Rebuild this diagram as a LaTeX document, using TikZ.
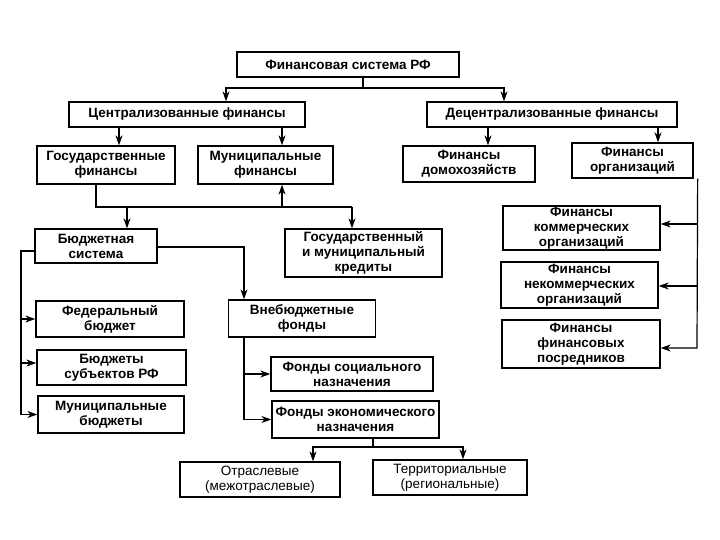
\documentclass[tikz,border=0pt]{standalone}
\usepackage{fontspec}
\setmainfont{Liberation Sans}
\usetikzlibrary{arrows.meta}
\tikzset{
  blk/.style={draw, line width=1.3pt, align=center, inner sep=0pt,
    font=\bfseries\fontsize{13.5}{15}\selectfont},
  thin/.style={font=\fontsize{13.5}{15}\selectfont},
  arr/.style={line width=1.2pt, -{Stealth[length=10pt,width=7pt]}},
  ln/.style={line width=1.2pt}
}
\begin{document}
\begin{tikzpicture}[x=1pt,y=-1pt]
\useasboundingbox[fill=white] (0,0) rectangle (720,540);

\node[blk, minimum width=222pt, minimum height=25pt] (fs) at (348,64.5) {Финансовая система РФ};

\node[blk, minimum width=236pt, minimum height=25pt] (cf) at (187,114.5) {Централизованные финансы};
\node[blk, minimum width=250pt, minimum height=25pt] (dcf) at (552,114.5) {Децентрализованные финансы};

\node[blk, minimum width=138pt, minimum height=38pt] (gf) at (106,165) {Государственные\\финансы};
\node[blk, minimum width=135pt, minimum height=38pt] (mf) at (265.5,165) {Муниципальные\\финансы};
\node[blk, minimum width=132pt, minimum height=36pt] (hf) at (469,164) {Финансы\\домохозяйств};
\node[blk, minimum width=121pt, minimum height=35pt] (of) at (632.5,160.5) {Финансы\\организаций};

\node[blk, minimum width=122pt, minimum height=34pt] (bs) at (96,246) {Бюджетная\\система};
\node[blk, minimum width=157pt, minimum height=48pt] (cr) at (363.5,253) {Государственный\\и муниципальный\\кредиты};

\node[blk, minimum width=157pt, minimum height=44pt] (co) at (581.5,228) {Финансы\\коммерческих\\организаций};
\node[blk, minimum width=157pt, minimum height=46pt] (nco) at (579.5,285) {Финансы\\некоммерческих\\организаций};
\node[blk, minimum width=158pt, minimum height=48pt] (fi) at (581,344) {Финансы\\финансовых\\посредников};

\node[blk, minimum width=148pt, minimum height=36pt] (fb) at (110,319) {Федеральный\\бюджет};
\node[blk, minimum width=149pt, minimum height=35pt] (sb) at (111.5,367.5) {Бюджеты\\субъектов РФ};
\node[blk, minimum width=146pt, minimum height=37pt] (mb) at (111,414.5) {Муниципальные\\бюджеты};

\node[blk, minimum width=147pt, minimum height=37pt] (vf) at (302,318.5) {Внебюджетные\\фонды};
\node[blk, minimum width=162pt, minimum height=34pt] (sf) at (352,374) {Фонды социального\\назначения};
\node[blk, minimum width=167pt, minimum height=37pt] (ef) at (355.5,419.5) {Фонды экономического\\назначения};

\node[blk, thin, minimum width=160pt, minimum height=35pt] (sec) at (260,479.5) {Отраслевые\\(межотраслевые)};
\node[blk, thin, minimum width=154pt, minimum height=35pt] (ter) at (450,477.5) {Территориальные\\(региональные)};

% top level
\coordinate (top) at (363,88);
\draw[ln] ([xshift=15pt]fs.south) -- (top);
\draw[arr] (top) -| ([xshift=39pt]cf.north);
\draw[arr] (top) -| ([xshift=-48pt]dcf.north);

\draw[arr] ([xshift=-68pt]cf.south) -- ([xshift=-68pt]cf.south |- gf.north);
\draw[arr] ([xshift=95pt]cf.south) -- ([xshift=95pt]cf.south |- mf.north);
\draw[arr] ([xshift=-64pt]dcf.south) -- ([xshift=-64pt]dcf.south |- hf.north);
\draw[arr] ([xshift=106pt]dcf.south) -- ([xshift=106pt]dcf.south |- of.north);

% state finances
\coordinate (gfhub) at (96,207);
\coordinate (crhub) at (352,207);
\coordinate (bsin) at ([xshift=31pt]bs.north);
\coordinate (mfin) at ([xshift=16.5pt]mf.south);
\draw[ln] ([xshift=-10pt]gf.south) -- (gfhub) -- (crhub);
\draw[arr] (crhub) -- (crhub |- cr.north);
\draw[arr] (gfhub -| bsin) -- (bsin);
\draw[arr] (gfhub -| mfin) -- (mfin);

% budget system
\coordinate (bsl) at (21,251);
\coordinate (sbin) at ([yshift=4.5pt]sb.west);
\draw[arr] ([yshift=-5pt]bs.west) -- (bsl) |- (mb.west);
\draw[arr] (bsl |- fb.west) -- (fb.west);
\draw[arr] (bsl |- sbin) -- (sbin);
\draw[arr] ([yshift=-1pt]bs.east) -| ([xshift=-58pt]vf.north);

% extra-budget funds
\draw[arr] ([xshift=-58pt]vf.south) |- (ef.west);
\draw[arr] ([xshift=-58pt]vf.south |- sf.west) -- (sf.west);

\coordinate (efhub) at (373,447);
\draw[ln] ([xshift=17.5pt]ef.south) -- (efhub);
\draw[arr] (efhub) -| ([xshift=53pt]sec.north);
\draw[arr] (efhub) -| ([xshift=13pt]ter.north);

% organizations
\coordinate (ofl) at (697,348);
\coordinate (coin) at ([yshift=4pt]co.east);
\coordinate (ncoin) at ([yshift=-1pt]nco.east);
\draw[arr] ([xshift=4pt]of.south east) -- (ofl) -- ([yshift=-4pt]fi.east);
\draw[arr] (ofl |- coin) -- (coin);
\draw[arr] (ofl |- ncoin) -- (ncoin);
\end{tikzpicture}
\end{document}
